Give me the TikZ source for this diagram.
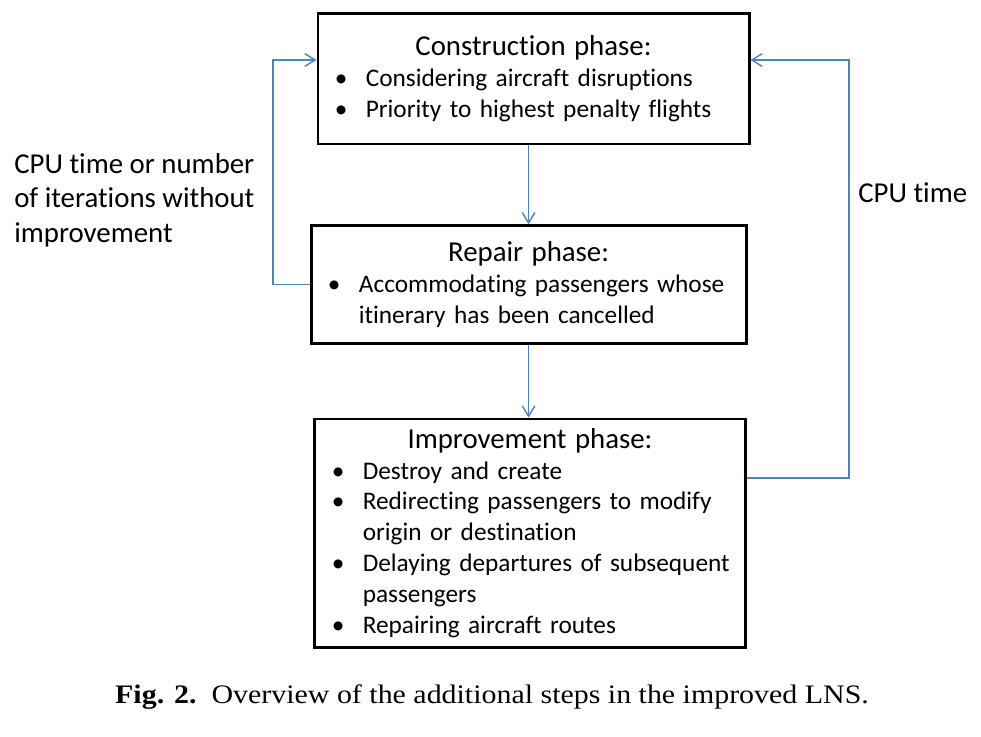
\documentclass[tikz,border=0pt]{standalone}
\usepackage{fontspec}
\setmainfont[Ligatures=NoCommon]{Carlito}
\newfontfamily\capfont{Liberation Serif}
\usepackage{enumitem}
\usepackage{graphicx}
\usepackage{tikz}
\usetikzlibrary{arrows.meta,positioning,calc}
\definecolor{lnsblue}{RGB}{79,129,189}
\newcommand{\phaselist}[1]{%
  \begin{itemize}[nosep,label=\textbullet,leftmargin=34pt,labelwidth=22pt,
                  labelsep=0pt,align=left]\raggedright#1\end{itemize}}
\newcommand{\phasetitle}[1]{{\centering\fontsize{20.5}{22.8}\selectfont #1\par}}
\tikzset{
  phasebox/.style={draw, line width=2.1pt, inner sep=0pt, align=left,
               font=\fontsize{18}{22}\selectfont, text width=#1},
  constrbox/.style={phasebox=306.6pt, minimum height=92.5pt},
  repairbox/.style={phasebox=309.4pt, minimum height=83.9pt},
  imprbox/.style={phasebox=305.9pt, minimum height=162.2pt},
  looplabel/.style={align=left, inner sep=0pt, font=\fontsize{20.5}{24.5}\selectfont},
  flow/.style={-{Straight Barb[length=2.6mm,width=3.2mm]}, line width=1pt, lnsblue},
}
\begin{document}
\begin{tikzpicture}[x=0.7113pt, y=-0.7113pt]
  \useasboundingbox (0,0) rectangle (981,737);
  \node[constrbox] (constr) at (533.5,79) {%
    \phasetitle{Construction phase:}
    \phaselist{\item Considering aircraft disruptions
               \item Priority to highest penalty flights}};
  \node[repairbox, below=56pt of constr.south, anchor=north, xshift=-3.5pt] (repair) {%
    \phasetitle{Repair phase:}
    \phaselist{\item Accommodating passengers whose\\ itinerary has been cancelled}};
  \node[imprbox, below=51.5pt of repair.south, anchor=north, xshift=1pt] (improve) {%
    \phasetitle{Improvement phase:}
    \phaselist{\item Destroy and create
               \item Redirecting passengers to modify\\ origin or destination
               \item Delaying departures of subsequent\\ passengers
               \item Repairing aircraft routes}};
  \node[looplabel, anchor=west] (leftlbl) at (14,200)
    {CPU time or number\\ of iterations without\\ improvement};
  \node[looplabel, anchor=west] (rightlbl) at (858,193) {CPU time};
  \node[font=\capfont\fontsize{19}{21}\selectfont] (caption) at (492,697)
    {\scalebox{1.12}[1]{\textbf{Fig. 2.}\hspace{0.5em}Overview of the additional steps in the improved LNS.}};
  \draw[flow] (repair.north |- constr.south) -- (repair.north);
  \draw[flow] (repair.south) -- (repair.south |- improve.north);
  \draw[flow] (repair.west) -- ++(-26pt,0) |- ([yshift=13.5pt]constr.west);
  \draw[flow] ([yshift=39pt]improve.east) -- ++(73pt,0) |- ([yshift=13.5pt]constr.east);
\end{tikzpicture}
\end{document}
